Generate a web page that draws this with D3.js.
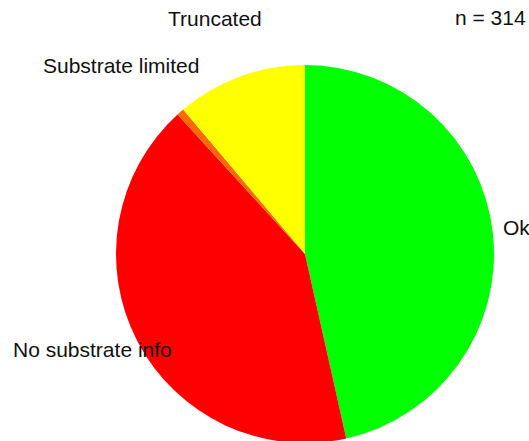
<!doctype html>
<html>
<head>
<style>
  body { margin: 0; background: #fff; }
  text { font-family: "Liberation Sans", Arial, sans-serif; font-size: 21px; fill: #111; }
</style>
<script src="https://d3js.org/d3.v7.min.js"></script>
</head>
<body>
<svg width="529" height="441"></svg>
<script>
  var categories = ["Ok", "No substrate info", "Substrate limited", "Truncated"];
  var counts = [146, 131, 2, 35];
  var colors = ["#00ff00", "#ff0000", "#ff6a00", "#ffff00"];

  var svg = d3.select("svg"),
      cx = 305, cy = 254, radius = 189;

  var pie = d3.pie().sort(null).startAngle(0).endAngle(2 * Math.PI);
  var arc = d3.arc().innerRadius(0).outerRadius(radius);

  var g = svg.append("g").attr("transform", "translate(" + cx + "," + cy + ")");

  g.selectAll("path")
    .data(pie(counts))
    .enter().append("path")
    .attr("d", arc)
    .attr("fill", function (d, i) { return colors[i]; });

  // label positions (relative to the pie centre), as placed in the original
  var labelPos = [[198, -19], [-292, 103], [-262, -181], [-137, -228]];

  g.selectAll(".lbl")
    .data(categories)
    .enter().append("text")
    .attr("class", "lbl")
    .attr("x", function (d, i) { return labelPos[i][0]; })
    .attr("y", function (d, i) { return labelPos[i][1]; })
    .text(function (d) { return d; });

  svg.append("text")
    .attr("x", 455)
    .attr("y", 25)
    .text("n = " + d3.sum(counts));
</script>
</body>
</html>
